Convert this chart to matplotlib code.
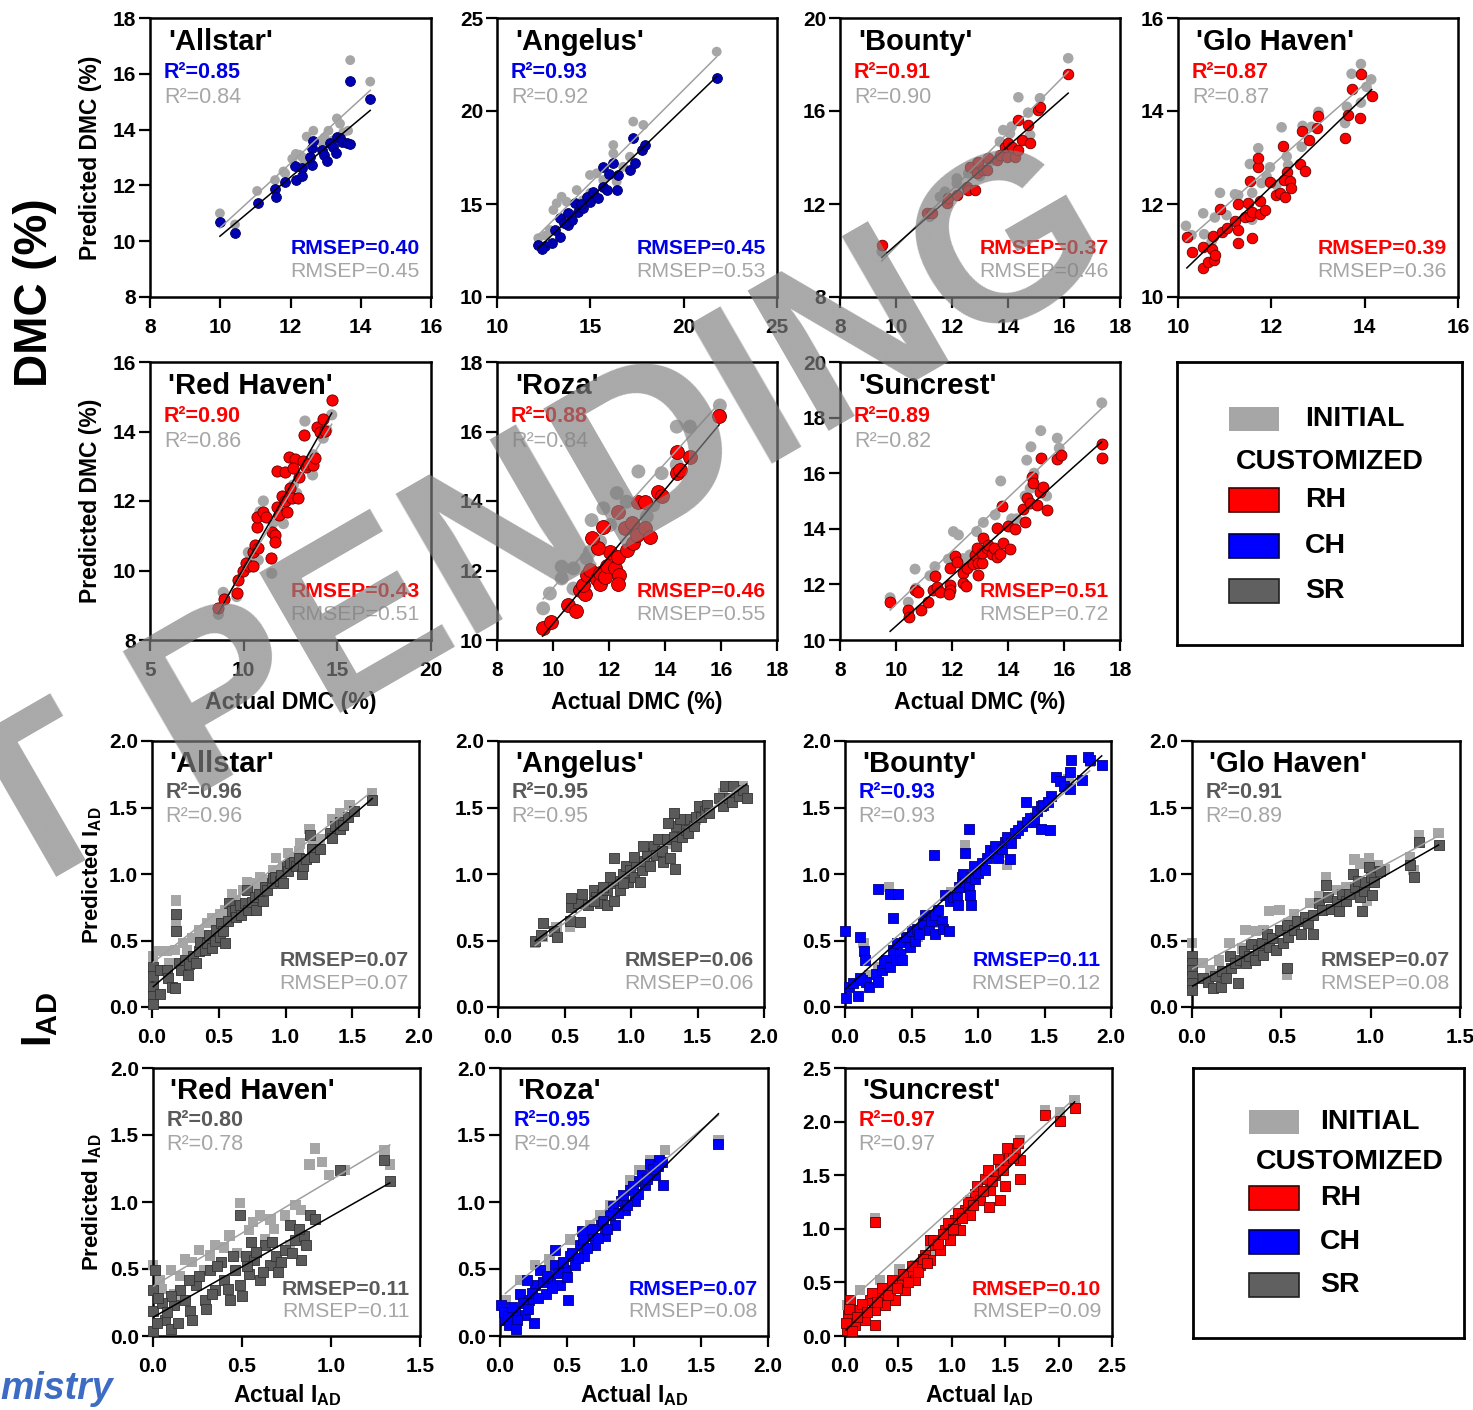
import numpy as np
import matplotlib.pyplot as plt
from matplotlib.patches import Rectangle

plt.rcParams['font.family'] = ['Liberation Sans', 'DejaVu Sans']
plt.rcParams['font.weight'] = 'bold'
plt.rcParams['mathtext.fontset'] = 'custom'
plt.rcParams['mathtext.rm'] = 'Liberation Sans:bold'
plt.rcParams['mathtext.bf'] = 'Liberation Sans:bold'
plt.rcParams['mathtext.it'] = 'Liberation Sans:bold'

# ---------------- DMC data (actual, predicted) ----------------
allstar_dmc_cust = [(9.99, 10.70), (10.42, 10.29), (11.07, 11.38), (11.56, 11.86), (11.58, 11.60), (11.85, 12.13),
                    (12.15, 12.19), (12.13, 12.70), (12.34, 12.61), (12.32, 12.35), (12.60, 12.73), (12.60, 13.33),
                    (12.65, 13.60), (12.56, 13.03), (12.89, 13.27), (12.94, 13.09), (13.03, 12.87), (13.13, 13.51),
                    (13.22, 13.39), (13.32, 13.75), (13.30, 13.17), (13.41, 13.69), (13.46, 13.57), (13.62, 13.51),
                    (13.68, 13.48), (13.70, 15.75), (14.27, 15.09)]
allstar_dmc_init = [(9.99, 11.00), (11.05, 11.80), (11.56, 12.19), (11.85, 12.43), (12.15, 13.13), (12.32, 13.03),
                    (12.65, 13.96), (12.46, 13.75), (12.97, 13.72), (13.08, 13.96), (13.32, 14.40), (13.41, 14.21),
                    (13.64, 13.96), (13.70, 16.49), (14.27, 15.72), (12.25, 13.10), (12.05, 12.95), (12.89, 13.55),
                    (13.22, 13.62), (11.80, 12.50), (10.42, 10.60), (12.40, 12.85), (13.50, 13.90)]

angelus_dmc_cust = [(12.21, 12.80), (12.57, 12.74), (12.93, 12.89), (13.37, 13.24), (13.37, 14.23), (13.82, 14.50),
                    (13.82, 13.87), (14.00, 14.14), (14.18, 15.04), (14.36, 14.59), (14.62, 14.77), (14.80, 15.39),
                    (14.98, 15.12), (15.16, 15.66), (15.43, 15.30), (15.69, 15.93), (15.88, 15.75), (16.23, 17.19),
                    (15.69, 17.00), (16.50, 16.56), (16.41, 15.75), (17.12, 16.83), (17.30, 18.53), (17.39, 17.19),
                    (17.75, 17.90), (17.93, 18.17), (21.77, 21.76), (12.40, 12.60), (13.10, 13.60), (13.60, 14.00),
                    (14.50, 15.00), (16.00, 16.60)]
angelus_dmc_init = [(12.21, 13.16), (13.20, 15.04), (13.73, 15.12), (14.98, 16.56), (15.34, 16.65), (16.23, 18.17),
                    (16.23, 17.72), (17.30, 19.43), (17.84, 19.25), (16.41, 16.20), (17.12, 17.54), (14.27, 15.75),
                    (13.02, 14.68), (13.46, 15.39), (21.77, 23.19), (12.84, 13.60), (15.69, 16.29), (16.76, 17.00),
                    (14.60, 15.20), (15.00, 15.60), (13.80, 14.40), (12.60, 13.30)]

bounty_dmc_cust = [(9.49, 10.24), (11.10, 11.60), (11.27, 11.60), (11.81, 12.03), (11.87, 12.25), (12.17, 12.39),
                   (12.52, 12.74), (12.58, 12.60), (12.82, 12.60), (12.64, 13.60), (12.94, 13.82), (12.88, 13.32),
                   (13.12, 13.46), (13.30, 13.96), (13.24, 13.46), (13.60, 13.89), (13.71, 14.11), (13.89, 14.46),
                   (13.95, 14.03), (14.01, 14.61), (14.13, 14.46), (14.25, 14.03), (14.37, 14.32), (14.37, 15.61),
                   (14.49, 14.75), (14.72, 15.40), (14.79, 14.64), (15.08, 16.04), (15.14, 16.18), (16.15, 17.58)]
bounty_dmc_init = [(9.49, 9.95), (11.21, 11.45), (11.75, 12.53), (12.17, 13.10), (12.88, 13.75), (13.36, 13.82),
                   (13.71, 14.68), (13.83, 15.18), (14.13, 15.33), (14.37, 16.59), (14.72, 15.93), (14.79, 14.97),
                   (15.14, 16.55), (16.15, 18.27), (12.58, 13.32), (13.12, 13.60), (12.17, 12.89), (11.57, 12.31),
                   (14.07, 15.03), (12.40, 12.60), (13.00, 13.20)]

glohaven_dmc_cust = [(10.19, 11.28), (10.29, 10.97), (10.54, 11.08), (10.54, 10.62), (10.65, 10.76), (10.72, 11.03),
                     (10.78, 10.80), (10.79, 10.90), (10.76, 11.32), (10.90, 11.89), (10.94, 11.40), (11.04, 11.48),
                     (11.22, 11.64), (11.29, 11.44), (11.29, 11.17), (11.29, 11.99), (11.44, 11.73), (11.51, 12.03),
                     (11.54, 12.49), (11.54, 11.74), (11.58, 11.83), (11.59, 11.26), (11.72, 12.80), (11.72, 13.00),
                     (11.76, 11.78), (11.76, 12.06), (11.86, 11.87), (11.97, 12.48), (12.11, 12.19), (12.19, 12.23),
                     (12.24, 13.25), (12.29, 12.14), (12.34, 12.69), (12.28, 12.52), (12.40, 12.50), (12.42, 12.35),
                     (12.61, 12.86), (12.65, 13.56), (12.73, 12.71), (12.81, 13.38), (12.97, 13.63), (13.01, 13.89),
                     (13.58, 13.41), (13.64, 13.91), (13.73, 14.47), (13.90, 13.86), (13.92, 14.80), (14.15, 14.32)]
glohaven_dmc_init = [(10.17, 11.53), (10.29, 11.33), (10.54, 11.80), (10.56, 11.35), (10.72, 11.19), (10.79, 11.71),
                     (10.90, 12.24), (11.04, 11.76), (11.22, 12.21), (11.29, 12.19), (11.54, 12.86), (11.59, 12.24),
                     (11.59, 11.66), (11.72, 13.20), (11.79, 12.45), (11.90, 12.59), (11.97, 12.79), (12.11, 12.41),
                     (12.22, 13.65), (12.33, 13.02), (12.36, 12.84), (12.65, 13.23), (12.67, 13.68), (12.86, 13.66),
                     (13.01, 13.98), (13.58, 13.74), (13.62, 14.09), (13.72, 14.80), (13.92, 15.01), (14.14, 14.68),
                     (13.92, 14.18), (14.04, 14.52)]

redhaven_dmc_cust = [(8.65, 8.91), (8.95, 9.18), (9.63, 9.36), (9.71, 9.73), (9.95, 9.99), (10.13, 10.21),
                     (10.30, 10.14), (10.52, 10.14), (10.52, 10.54), (10.61, 10.73), (10.78, 10.64), (10.70, 11.26),
                     (10.73, 11.55), (11.02, 11.69), (11.19, 11.55), (11.44, 10.35), (11.50, 11.12), (11.67, 11.02),
                     (11.67, 10.83), (11.76, 11.84), (11.90, 11.60), (12.03, 12.13), (12.21, 11.99), (12.30, 11.69),
                     (12.47, 12.37), (12.57, 12.08), (12.92, 12.08), (12.97, 12.68), (11.76, 12.86), (12.21, 12.84),
                     (12.44, 13.28), (12.74, 13.20), (12.62, 12.96), (13.18, 13.14), (13.33, 12.99), (13.45, 13.06),
                     (13.72, 13.04), (13.81, 13.24), (13.22, 13.89), (13.90, 14.12), (14.08, 13.99), (14.34, 14.01),
                     (14.25, 14.35), (14.70, 14.91)]
redhaven_dmc_init = [(8.65, 8.74), (8.91, 9.37), (9.63, 9.25), (10.25, 10.52), (10.34, 10.33), (10.78, 10.30),
                     (10.87, 11.69), (11.05, 12.00), (11.50, 9.92), (11.58, 11.38), (11.85, 11.50), (12.12, 11.35),
                     (12.30, 11.99), (12.65, 12.46), (12.83, 12.22), (13.27, 14.30), (13.68, 12.75), (13.58, 12.94),
                     (13.72, 13.33), (14.25, 13.81), (14.70, 14.48), (14.44, 14.04)]

roza_dmc_cust = [(9.63, 10.34), (9.92, 10.51), (10.55, 11.01), (10.82, 10.83), (10.96, 11.44), (11.14, 11.32),
                 (11.08, 11.58), (11.20, 11.87), (11.32, 12.01), (11.56, 11.76), (11.68, 11.60), (11.68, 11.92),
                 (11.86, 11.82), (11.92, 12.14), (12.04, 12.54), (12.21, 12.06), (12.33, 12.40), (12.37, 11.87),
                 (12.33, 11.60), (11.62, 12.64), (11.38, 12.94), (11.80, 13.26), (12.33, 13.69), (12.57, 13.23),
                 (12.63, 12.60), (12.81, 13.36), (12.87, 12.78), (12.99, 13.02), (13.29, 13.23), (13.46, 12.97),
                 (13.05, 13.98), (13.29, 13.96), (13.76, 14.27), (13.88, 14.15), (14.42, 14.80), (14.42, 15.40),
                 (14.54, 14.89), (14.89, 15.28), (15.93, 16.46)]
roza_dmc_init = [(9.65, 10.91), (9.89, 11.34), (10.31, 12.11), (10.31, 11.77), (10.73, 11.48), (11.32, 12.54),
                 (11.38, 13.45), (11.80, 13.79), (12.28, 14.23), (12.63, 13.98), (13.05, 14.85), (13.58, 13.88),
                 (13.88, 14.80), (14.42, 16.14), (14.89, 16.14), (15.96, 16.75), (14.42, 15.04), (11.68, 12.83),
                 (12.04, 13.31), (11.20, 12.35), (10.73, 12.06), (13.35, 13.55)]

suncrest_dmc_cust = [(9.79, 11.36), (10.44, 11.08), (10.48, 10.84), (10.68, 11.80), (10.80, 11.71), (10.88, 11.08),
                     (11.15, 11.36), (11.31, 11.80), (11.39, 12.31), (11.45, 11.92), (11.57, 11.74), (11.93, 11.98),
                     (11.93, 11.80), (11.90, 11.65), (11.93, 12.58), (12.11, 13.03), (12.17, 12.81), (12.40, 12.40),
                     (12.40, 12.04), (12.50, 11.95), (12.55, 12.58), (12.76, 12.73), (12.82, 13.06), (12.88, 13.32),
                     (12.94, 12.76), (12.94, 12.34), (13.06, 12.76), (13.06, 13.12), (13.12, 13.66), (13.26, 13.32),
                     (13.30, 13.42), (13.42, 13.08), (13.50, 13.30), (13.60, 13.00), (13.71, 13.08), (13.59, 14.02),
                     (13.83, 13.48), (14.01, 14.11), (14.07, 13.28), (14.25, 13.99), (14.61, 14.26), (14.52, 14.71),
                     (14.67, 15.10), (14.79, 14.92), (14.85, 15.88), (14.90, 15.64), (15.02, 14.86), (15.14, 15.31),
                     (15.26, 15.51), (15.38, 14.68), (13.77, 14.82), (15.17, 16.54), (15.76, 16.52), (15.89, 16.67),
                     (17.35, 17.05), (17.35, 16.56)]
suncrest_dmc_init = [(9.79, 11.52), (10.44, 11.36), (10.68, 12.55), (11.21, 12.31), (11.39, 12.64), (11.87, 12.91),
                     (12.05, 13.90), (12.23, 13.78), (12.88, 13.90), (13.12, 14.23), (13.54, 14.50), (13.74, 15.72),
                     (14.13, 14.36), (14.31, 14.36), (14.61, 15.18), (14.67, 16.47), (14.82, 16.95), (14.93, 16.00),
                     (15.17, 17.53), (15.38, 15.18), (15.76, 17.26), (15.83, 16.90), (17.35, 18.53), (12.40, 12.93),
                     (12.64, 13.06), (10.71, 11.86), (14.79, 15.45)]

# ---------------- I_AD data (actual, predicted) ----------------
allstar_iad_cust = [(0.01, 0.30), (0.01, 0.23), (0.01, 0.15), (0.01, 0.08), (0.01, 0.02), (0.06, 0.28), (0.06, 0.10),
                    (0.11, 0.28), (0.12, 0.22), (0.15, 0.15), (0.17, 0.14), (0.20, 0.33), (0.22, 0.28), (0.25, 0.35),
                    (0.27, 0.24), (0.28, 0.32), (0.31, 0.38), (0.35, 0.42), (0.33, 0.33), (0.36, 0.49), (0.40, 0.43),
                    (0.41, 0.48), (0.43, 0.54), (0.45, 0.44), (0.47, 0.50), (0.48, 0.58), (0.51, 0.53), (0.52, 0.63),
                    (0.53, 0.57), (0.55, 0.48), (0.57, 0.65), (0.58, 0.78), (0.60, 0.72), (0.62, 0.73), (0.63, 0.68),
                    (0.66, 0.77), (0.67, 0.69), (0.70, 0.78), (0.71, 0.88), (0.72, 0.73), (0.75, 0.79), (0.77, 0.83),
                    (0.78, 0.73), (0.80, 0.85), (0.83, 0.80), (0.85, 0.90), (0.86, 0.88), (0.90, 0.93), (0.91, 0.97),
                    (0.92, 0.98), (0.96, 0.95), (0.97, 0.99), (0.98, 0.93), (1.01, 1.06), (1.02, 1.02), (1.03, 1.08),
                    (1.06, 1.09), (1.08, 1.06), (1.10, 1.12), (1.12, 1.00), (1.13, 1.06), (1.15, 1.11), (1.18, 1.29),
                    (1.20, 1.19), (1.21, 1.13), (1.26, 1.19), (1.33, 1.31), (1.35, 1.27), (1.37, 1.36), (1.41, 1.34),
                    (1.41, 1.39), (1.43, 1.37), (1.47, 1.43), (1.51, 1.47), (1.65, 1.56), (0.18, 0.70), (0.18, 0.57)]
allstar_iad_init = [(0.01, 0.38), (0.05, 0.42), (0.11, 0.42), (0.17, 0.43), (0.23, 0.48), (0.30, 0.52), (0.35, 0.58),
                    (0.41, 0.63), (0.45, 0.67), (0.51, 0.70), (0.55, 0.73), (0.60, 0.85), (0.63, 0.80), (0.71, 0.94),
                    (0.76, 0.93), (0.81, 0.98), (0.85, 0.95), (0.93, 1.12), (0.98, 1.06), (1.02, 1.16), (1.10, 1.17),
                    (1.11, 1.23), (1.18, 1.34), (1.26, 1.26), (1.35, 1.41), (1.41, 1.46), (1.48, 1.52), (1.65, 1.61),
                    (0.18, 0.80), (0.18, 0.64), (0.03, 0.28), (0.13, 0.33), (0.26, 0.43), (0.37, 0.53), (0.48, 0.64),
                    (0.58, 0.69), (0.68, 0.88), (0.78, 0.90), (0.91, 1.03), (1.06, 1.13), (1.21, 1.26)]

angelus_iad_cust = [(0.28, 0.50), (0.32, 0.54), (0.34, 0.63), (0.42, 0.57), (0.44, 0.53), (0.54, 0.65), (0.55, 0.75),
                    (0.60, 0.78), (0.62, 0.64), (0.63, 0.85), (0.68, 0.77), (0.72, 0.88), (0.74, 0.83), (0.77, 0.78),
                    (0.78, 0.85), (0.82, 0.77), (0.82, 0.88), (0.85, 0.93), (0.87, 1.12), (0.87, 0.80), (0.90, 0.95),
                    (0.92, 0.88), (0.94, 1.00), (0.96, 1.06), (0.98, 0.94), (0.99, 1.03), (1.02, 0.98), (1.04, 1.08),
                    (1.07, 0.94), (1.08, 1.03), (1.10, 1.10), (1.12, 1.16), (1.14, 1.06), (1.17, 1.21), (1.19, 1.14),
                    (1.20, 1.26), (1.23, 1.17), (1.24, 1.09), (1.27, 1.26), (1.29, 1.12), (1.32, 1.28), (1.33, 1.04),
                    (1.34, 1.36), (1.34, 1.21), (1.37, 1.41), (1.38, 1.28), (1.41, 1.33), (1.43, 1.31), (1.44, 1.41),
                    (1.47, 1.36), (1.49, 1.43), (1.51, 1.51), (1.53, 1.43), (1.56, 1.47), (1.57, 1.52), (1.59, 1.46),
                    (1.66, 1.57), (1.69, 1.51), (1.71, 1.66), (1.74, 1.57), (1.77, 1.66), (1.76, 1.54), (1.81, 1.59),
                    (1.84, 1.63), (1.87, 1.57), (1.32, 1.46), (1.28, 1.38), (1.09, 1.21), (1.02, 1.13), (0.94, 0.93),
                    (0.84, 0.98), (0.72, 0.80), (0.55, 0.82), (0.79, 0.90)]
angelus_iad_init = [(0.28, 0.48), (0.54, 0.60), (0.77, 0.83), (0.99, 1.00), (1.14, 1.13), (1.32, 1.23), (1.44, 1.36),
                    (1.57, 1.46), (1.69, 1.61), (1.84, 1.66), (0.64, 0.78), (0.89, 0.93), (1.07, 1.06), (1.24, 1.21),
                    (1.49, 1.41), (0.44, 0.60), (0.34, 0.53)]

bounty_iad_cust = [(0.01, 0.07), (0.03, 0.15), (0.06, 0.18), (0.10, 0.08), (0.13, 0.20), (0.16, 0.19), (0.18, 0.15),
                   (0.11, 0.22), (0.23, 0.25), (0.25, 0.19), (0.28, 0.28), (0.29, 0.33), (0.31, 0.35), (0.34, 0.30),
                   (0.36, 0.43), (0.38, 0.35), (0.39, 0.48), (0.41, 0.40), (0.43, 0.35), (0.44, 0.49), (0.46, 0.53),
                   (0.49, 0.45), (0.50, 0.57), (0.53, 0.50), (0.54, 0.59), (0.56, 0.55), (0.59, 0.63), (0.60, 0.69),
                   (0.63, 0.58), (0.65, 0.65), (0.68, 0.55), (0.68, 0.69), (0.70, 0.73), (0.73, 0.65), (0.74, 0.59),
                   (0.75, 0.84), (0.78, 0.57), (0.79, 0.80), (0.81, 0.83), (0.84, 0.83), (0.85, 0.77), (0.86, 0.90),
                   (0.88, 0.98), (0.89, 1.00), (0.90, 0.94), (0.93, 0.90), (0.94, 0.84), (0.95, 0.77), (0.95, 0.98),
                   (0.97, 1.06), (0.98, 0.96), (1.00, 1.01), (1.03, 1.08), (1.05, 1.03), (1.07, 1.12), (1.09, 1.18),
                   (1.12, 1.16), (1.13, 1.21), (1.15, 1.12), (1.18, 1.19), (1.20, 1.24), (1.22, 1.28), (1.24, 1.11),
                   (1.25, 1.23), (1.28, 1.31), (1.30, 1.33), (1.33, 1.36), (1.37, 1.39), (1.39, 1.42), (1.42, 1.39),
                   (1.44, 1.47), (1.47, 1.51), (1.49, 1.52), (1.47, 1.34), (1.54, 1.33), (1.55, 1.59), (1.53, 1.54),
                   (1.59, 1.73), (1.62, 1.70), (1.65, 1.66), (1.69, 1.64), (1.69, 1.77), (1.70, 1.86), (1.78, 1.71),
                   (1.83, 1.88), (1.84, 1.86), (1.93, 1.82), (0.00, 0.57), (0.11, 0.53), (0.14, 0.42), (0.15, 0.35),
                   (0.25, 0.89), (0.34, 0.85), (0.40, 0.85), (0.36, 0.67), (0.67, 1.14), (0.93, 1.34), (0.90, 1.16),
                   (1.36, 1.54)]
bounty_iad_init = [(0.14, 0.48), (0.33, 0.90), (0.90, 1.22), (0.18, 0.24), (0.43, 0.40), (0.68, 0.63), (0.93, 0.93),
                   (1.18, 1.16), (1.43, 1.43), (1.68, 1.71), (1.84, 1.84), (1.22, 1.07), (0.55, 0.53), (1.05, 1.06),
                   (1.33, 1.37), (0.25, 0.30), (0.80, 0.86)]

glohaven_iad_cust = [(0.00, 0.38), (0.00, 0.33), (0.00, 0.28), (0.00, 0.23), (0.00, 0.18), (0.00, 0.13), (0.06, 0.22),
                     (0.09, 0.19), (0.12, 0.14), (0.13, 0.23), (0.16, 0.15), (0.17, 0.27), (0.19, 0.22), (0.21, 0.38),
                     (0.22, 0.29), (0.24, 0.33), (0.26, 0.18), (0.27, 0.35), (0.29, 0.42), (0.30, 0.33), (0.32, 0.38),
                     (0.33, 0.47), (0.35, 0.35), (0.37, 0.43), (0.39, 0.48), (0.40, 0.39), (0.42, 0.55), (0.43, 0.45),
                     (0.45, 0.52), (0.47, 0.43), (0.49, 0.58), (0.51, 0.48), (0.53, 0.62), (0.53, 0.29), (0.54, 0.53),
                     (0.57, 0.58), (0.59, 0.65), (0.61, 0.55), (0.63, 0.68), (0.65, 0.63), (0.68, 0.69), (0.68, 0.55),
                     (0.71, 0.78), (0.73, 0.73), (0.75, 0.92), (0.76, 0.83), (0.78, 0.74), (0.81, 0.80), (0.82, 0.72),
                     (0.84, 0.85), (0.86, 0.80), (0.88, 0.85), (0.90, 1.00), (0.91, 0.90), (0.93, 0.95), (0.94, 0.83),
                     (0.95, 0.72), (0.96, 0.87), (0.97, 0.94), (0.99, 1.05), (1.00, 0.98), (1.01, 0.84), (1.02, 0.94),
                     (1.05, 1.02), (1.22, 1.07), (1.24, 0.98), (1.27, 1.24), (1.38, 1.22)]
glohaven_iad_init = [(0.00, 0.48), (0.06, 0.33), (0.10, 0.28), (0.15, 0.35), (0.21, 0.48), (0.28, 0.44), (0.30, 0.58),
                     (0.36, 0.57), (0.43, 0.72), (0.49, 0.73), (0.57, 0.70), (0.64, 0.67), (0.66, 0.78), (0.75, 0.98),
                     (0.81, 0.88), (0.86, 0.90), (0.91, 1.11), (0.94, 1.08), (0.99, 1.12), (1.04, 1.07), (1.08, 1.04),
                     (0.98, 0.80), (1.22, 1.13), (1.24, 1.03), (1.27, 1.29), (1.38, 1.31), (0.53, 0.24), (0.12, 0.25),
                     (0.40, 0.58), (0.54, 0.63), (0.71, 0.83)]

redhaven_iad_cust = [(0.00, 0.34), (0.00, 0.19), (0.00, 0.04), (0.01, 0.49), (0.07, 0.12), (0.12, 0.23), (0.15, 0.34),
                     (0.21, 0.19), (0.24, 0.38), (0.29, 0.27), (0.32, 0.49), (0.35, 0.34), (0.40, 0.42), (0.43, 0.27),
                     (0.46, 0.49), (0.49, 0.38), (0.52, 0.60), (0.54, 0.46), (0.57, 0.57), (0.60, 0.42), (0.63, 0.68),
                     (0.66, 0.53), (0.69, 0.60), (0.74, 0.64), (0.77, 0.83), (0.80, 0.72), (0.83, 0.57), (0.85, 0.75),
                     (0.88, 0.90), (0.49, 0.90), (1.30, 1.31), (1.33, 1.16), (1.05, 1.24), (0.91, 0.87), (0.10, 0.30),
                     (0.20, 0.42), (0.38, 0.55), (0.55, 0.70), (0.70, 0.48), (0.05, 0.25), (0.02, 0.10), (0.03, 0.28),
                     (0.08, 0.18), (0.10, 0.05), (0.14, 0.10), (0.18, 0.27), (0.22, 0.12), (0.26, 0.45), (0.30, 0.20),
                     (0.33, 0.31), (0.36, 0.52), (0.42, 0.35), (0.45, 0.60), (0.50, 0.30), (0.53, 0.52), (0.58, 0.63),
                     (0.62, 0.48), (0.67, 0.70), (0.72, 0.55), (0.78, 0.62), (0.82, 0.80), (0.86, 0.68)]
redhaven_iad_init = [(0.00, 0.53), (0.04, 0.42), (0.10, 0.49), (0.18, 0.57), (0.26, 0.64), (0.35, 0.68), (0.43, 0.75),
                     (0.49, 0.99), (0.54, 0.79), (0.60, 0.90), (0.66, 0.87), (0.74, 0.90), (0.83, 0.94), (0.88, 1.28),
                     (0.91, 1.40), (0.99, 1.20), (1.08, 1.24), (1.30, 1.39), (1.33, 1.28), (0.77, 0.68), (0.12, 0.31),
                     (0.29, 0.49), (0.63, 0.72), (0.05, 0.35), (0.15, 0.45), (0.22, 0.55), (0.32, 0.60), (0.40, 0.66),
                     (0.47, 0.62), (0.56, 0.85), (0.68, 0.80), (0.80, 0.98), (0.95, 1.30)]

roza_iad_cust = [(0.01, 0.23), (0.04, 0.12), (0.07, 0.08), (0.11, 0.19), (0.15, 0.31), (0.19, 0.16), (0.22, 0.27),
                 (0.26, 0.38), (0.30, 0.49), (0.34, 0.31), (0.37, 0.42), (0.41, 0.53), (0.45, 0.38), (0.49, 0.49),
                 (0.52, 0.60), (0.56, 0.53), (0.60, 0.68), (0.63, 0.60), (0.67, 0.75), (0.71, 0.68), (0.75, 0.83),
                 (0.78, 0.75), (0.82, 0.90), (0.86, 0.83), (0.90, 1.01), (0.93, 0.94), (0.97, 1.09), (1.01, 1.01),
                 (1.04, 1.16), (1.08, 1.13), (1.12, 1.28), (1.16, 1.20), (1.19, 1.31), (1.22, 1.13), (0.51, 0.27),
                 (1.63, 1.43), (0.20, 0.42), (0.41, 0.64), (0.61, 0.78), (0.84, 0.97), (0.03, 0.18), (0.06, 0.15),
                 (0.09, 0.22), (0.13, 0.12), (0.17, 0.25), (0.21, 0.20), (0.24, 0.32), (0.28, 0.28), (0.32, 0.40),
                 (0.35, 0.45), (0.39, 0.36), (0.43, 0.47), (0.47, 0.55), (0.50, 0.44), (0.54, 0.62), (0.58, 0.58),
                 (0.62, 0.72), (0.65, 0.66), (0.69, 0.80), (0.73, 0.73), (0.77, 0.86), (0.80, 0.80), (0.88, 0.92),
                 (0.92, 1.05), (0.95, 0.98), (0.99, 1.12), (1.03, 1.06), (1.06, 1.20), (1.10, 1.17), (1.14, 1.25),
                 (1.18, 1.27), (1.21, 1.30), (0.25, 0.10), (0.12, 0.05)]
roza_iad_init = [(0.04, 0.27), (0.15, 0.42), (0.26, 0.53), (0.37, 0.57), (0.52, 0.72), (0.67, 0.83), (0.82, 0.98),
                 (0.97, 1.16), (1.12, 1.31), (1.23, 1.39), (1.63, 1.46), (0.34, 0.49), (0.75, 0.90), (1.04, 1.24)]

suncrest_iad_cust = [(0.02, 0.06), (0.03, 0.20), (0.05, 0.34), (0.09, 0.10), (0.14, 0.24), (0.19, 0.15), (0.23, 0.34),
                     (0.28, 0.24), (0.33, 0.38), (0.37, 0.29), (0.42, 0.43), (0.47, 0.34), (0.51, 0.48), (0.56, 0.43),
                     (0.61, 0.57), (0.66, 0.52), (0.70, 0.66), (0.75, 0.76), (0.80, 0.71), (0.84, 0.85), (0.89, 0.80),
                     (0.94, 0.99), (0.98, 0.90), (1.03, 1.08), (1.08, 0.99), (1.12, 1.18), (1.17, 1.13), (1.22, 1.32),
                     (1.26, 1.27), (1.31, 1.46), (1.36, 1.36), (1.40, 1.50), (1.45, 1.60), (1.50, 1.64), (1.54, 1.69),
                     (1.59, 1.74), (1.64, 1.64), (1.45, 1.27), (1.64, 1.46), (1.87, 2.06), (2.01, 2.01), (2.15, 2.13),
                     (0.28, 0.10), (0.80, 0.90), (0.28, 1.06), (0.01, 0.12), (0.04, 0.25), (0.07, 0.05), (0.11, 0.18),
                     (0.16, 0.30), (0.21, 0.22), (0.25, 0.40), (0.30, 0.32), (0.35, 0.45), (0.40, 0.38), (0.44, 0.52),
                     (0.49, 0.45), (0.54, 0.58), (0.59, 0.50), (0.63, 0.65), (0.68, 0.60), (0.73, 0.72), (0.77, 0.68),
                     (0.82, 0.90), (0.87, 0.86), (0.92, 0.95), (0.96, 1.05), (1.01, 1.00), (1.06, 1.15), (1.10, 1.10),
                     (1.15, 1.25), (1.20, 1.22), (1.24, 1.40), (1.29, 1.35), (1.34, 1.55), (1.38, 1.45), (1.43, 1.65),
                     (1.48, 1.55), (1.52, 1.75), (1.57, 1.66), (1.62, 1.80), (1.35, 1.20), (1.50, 1.40)]
suncrest_iad_init = [(0.02, 0.29), (0.14, 0.43), (0.33, 0.52), (0.51, 0.62), (0.66, 0.66), (0.80, 0.80), (0.98, 1.04),
                     (1.17, 1.27), (1.36, 1.50), (1.54, 1.74), (1.64, 1.83), (1.87, 2.11), (2.01, 2.09), (2.15, 2.20),
                     (0.28, 1.10)]

# colours
GRAY = '#a6a6a6'
RED, RED_E = '#ff0000', '#600000'
NAVY, NAVY_E = '#0000b4', '#00005a'
BLUE, BLUE_E = '#0000ff', '#000080'
DARK, DARK_E = '#5a5a5a', '#333333'
TXT_BLUE = '#0000e6'

W, H = 1473, 1410
fig = plt.figure(figsize=(W / 100, H / 100), dpi=100)


def px_axes(l, t, r, b):
    return fig.add_axes([l / W, 1 - b / H, (r - l) / W, (b - t) / H])


def fig_xy(x, y):
    return x / W, 1 - y / H


panels = [
    # name, box, xlim, ylim, xticks, yticks, cust, init, colour, edge, txtcolour, r2, rmsep, marker, size
    ("'Allstar'", (150, 18, 431, 297), (8, 16), (8, 18), range(8, 17, 2), range(8, 19, 2),
     allstar_dmc_cust, allstar_dmc_init, NAVY, NAVY_E, TXT_BLUE, ('0.85', '0.84'), ('0.40', '0.45'), 'o', 50),
    ("'Angelus'", (497, 18, 777, 297), (10, 25), (10, 25), range(10, 26, 5), range(10, 26, 5),
     angelus_dmc_cust, angelus_dmc_init, NAVY, NAVY_E, TXT_BLUE, ('0.93', '0.92'), ('0.45', '0.53'), 'o', 50),
    ("'Bounty'", (840, 18, 1120, 297), (8, 18), (8, 20), range(8, 19, 2), range(8, 21, 4),
     bounty_dmc_cust, bounty_dmc_init, RED, RED_E, RED, ('0.91', '0.90'), ('0.37', '0.46'), 'o', 58),
    ("'Glo Haven'", (1178, 18, 1458, 297), (10, 16), (10, 16), range(10, 17, 2), range(10, 17, 2),
     glohaven_dmc_cust, glohaven_dmc_init, RED, RED_E, RED, ('0.87', '0.87'), ('0.39', '0.36'), 'o', 58),
    ("'Red Haven'", (150, 362, 431, 640), (5, 20), (8, 16), range(5, 21, 5), range(8, 17, 2),
     redhaven_dmc_cust, redhaven_dmc_init, RED, RED_E, RED, ('0.90', '0.86'), ('0.43', '0.51'), 'o', 65),
    ("'Roza'", (497, 362, 777, 640), (8, 18), (10, 18), range(8, 19, 2), range(10, 19, 2),
     roza_dmc_cust, roza_dmc_init, RED, RED_E, RED, ('0.88', '0.84'), ('0.46', '0.55'), 'o', 100),
    ("'Suncrest'", (840, 362, 1120, 640), (8, 18), (10, 20), range(8, 19, 2), range(10, 21, 2),
     suncrest_dmc_cust, suncrest_dmc_init, RED, RED_E, RED, ('0.89', '0.82'), ('0.51', '0.72'), 'o', 62),
    ("'Allstar'", (152, 741, 419, 1007), (0, 2), (0, 2), np.arange(0, 2.01, 0.5), np.arange(0, 2.01, 0.5),
     allstar_iad_cust, allstar_iad_init, DARK, DARK_E, DARK, ('0.96', '0.96'), ('0.07', '0.07'), 's', 55),
    ("'Angelus'", (498, 741, 764, 1007), (0, 2), (0, 2), np.arange(0, 2.01, 0.5), np.arange(0, 2.01, 0.5),
     angelus_iad_cust, angelus_iad_init, DARK, DARK_E, DARK, ('0.95', '0.95'), ('0.06', '0.06'), 's', 55),
    ("'Bounty'", (845, 741, 1111, 1007), (0, 2), (0, 2), np.arange(0, 2.01, 0.5), np.arange(0, 2.01, 0.5),
     bounty_iad_cust, bounty_iad_init, BLUE, BLUE_E, BLUE, ('0.93', '0.93'), ('0.11', '0.12'), 's', 55),
    ("'Glo Haven'", (1192, 741, 1460, 1007), (0, 1.5), (0, 2), np.arange(0, 1.51, 0.5), np.arange(0, 2.01, 0.5),
     glohaven_iad_cust, glohaven_iad_init, DARK, DARK_E, DARK, ('0.91', '0.89'), ('0.07', '0.08'), 's', 55),
    ("'Red Haven'", (153, 1068, 420, 1336), (0, 1.5), (0, 2), np.arange(0, 1.51, 0.5), np.arange(0, 2.01, 0.5),
     redhaven_iad_cust, redhaven_iad_init, DARK, DARK_E, DARK, ('0.80', '0.78'), ('0.11', '0.11'), 's', 55),
    ("'Roza'", (500, 1068, 768, 1336), (0, 2), (0, 2), np.arange(0, 2.01, 0.5), np.arange(0, 2.01, 0.5),
     roza_iad_cust, roza_iad_init, BLUE, BLUE_E, BLUE, ('0.95', '0.94'), ('0.07', '0.08'), 's', 55),
    ("'Suncrest'", (845, 1068, 1112, 1336), (0, 2.5), (0, 2.5), np.arange(0, 2.51, 0.5), np.arange(0, 2.51, 0.5),
     suncrest_iad_cust, suncrest_iad_init, RED, RED_E, RED, ('0.97', '0.97'), ('0.10', '0.09'), 's', 55),
]

for (name, box, xlim, ylim, xt, yt, cust, init, col, ecol, tcol, r2, rmsep, mk, sz) in panels:
    ax = px_axes(*box)
    ix, iy = np.array(init).T
    cx, cy = np.array(cust).T
    ax.scatter(ix, iy, s=sz, marker=mk, color=GRAY, edgecolors='none', zorder=2, clip_on=False)
    ax.scatter(cx, cy, s=sz, marker=mk, color=col, edgecolors=ecol, linewidths=0.6, zorder=3, clip_on=False)
    for xs, ys, lc, lz in ((ix, iy, '#a0a0a0', 4), (cx, cy, 'black', 5)):
        k, b0 = np.polyfit(xs, ys, 1)
        xx = np.array([xs.min(), xs.max()])
        ax.plot(xx, k * xx + b0, color=lc, lw=1.1, zorder=lz)
    ax.set_xlim(*xlim)
    ax.set_ylim(*ylim)
    ax.set_xticks(list(xt))
    ax.set_yticks(list(yt))
    if mk == 's':
        ax.set_xticklabels([f'{v:.1f}' for v in xt])
        ax.set_yticklabels([f'{v:.1f}' for v in yt])
    for sp in ax.spines.values():
        sp.set_linewidth(1.8)
    ax.tick_params(axis='both', direction='out', length=8, width=1.6, labelsize=15)
    ax.tick_params(axis='x', pad=7)
    ax.tick_params(axis='y', pad=2)
    ax.text(0.065, 0.915, name, transform=ax.transAxes, fontsize=21, ha='left', va='center')
    ax.text(0.05, 0.805, f'R²={r2[0]}', transform=ax.transAxes, fontsize=15.5, color=tcol, ha='left', va='center')
    ax.text(0.05, 0.715, f'R²={r2[1]}', transform=ax.transAxes, fontsize=15.5, color=GRAY,
            fontweight='normal', ha='left', va='center')
    ax.text(0.96, 0.175, f'RMSEP={rmsep[0]}', transform=ax.transAxes, fontsize=15.3, color=tcol,
            ha='right', va='center')
    ax.text(0.96, 0.09, f'RMSEP={rmsep[1]}', transform=ax.transAxes, fontsize=15.3, color=GRAY,
            fontweight='normal', ha='right', va='center')

# axis labels
for y in (158, 501):
    fig.text(*fig_xy(90, y), 'Predicted DMC (%)', rotation=90, fontsize=16.5, ha='center', va='center')
for y in (875, 1202):
    fig.text(*fig_xy(92, y), r'Predicted I$_{\mathbf{AD}}$', rotation=90, fontsize=16, ha='center', va='center')
for x in (291, 637, 980):
    fig.text(*fig_xy(x, 703), 'Actual DMC (%)', fontsize=16.7, ha='center', va='center')
for x in (287, 634, 979):
    fig.text(*fig_xy(x, 1395), r'Actual I$_{\mathbf{AD}}$', fontsize=16.7, ha='center', va='center')
fig.text(*fig_xy(35, 293), 'DMC (%)', rotation=90, fontsize=33, ha='center', va='center')
fig.text(*fig_xy(40, 1020), r'I$_{\mathbf{AD}}$', rotation=90, fontsize=30, ha='center', va='center')

# legends
legend_items = [('INITIAL', GRAY, 'none'), ('RH', RED, '#400000'), ('CH', BLUE, '#000040'), ('SR', '#606060', '#202020')]
for (l, t, r, b), rows in (((1177, 362, 1462, 645), (419, 462, 500, 546, 591)),
                           ((1193, 1068, 1464, 1338), (1122, 1162, 1198, 1242, 1285))):
    lax = px_axes(l, t, r, b)
    lax.set_xlim(l, r)
    lax.set_ylim(b, t)
    lax.set_xticks([])
    lax.set_yticks([])
    for sp in lax.spines.values():
        sp.set_linewidth(2)
    px0 = l + 52 if t < 700 else l + 56
    tx = l + 128 if t < 700 else l + 127
    ys = [rows[0], rows[2], rows[3], rows[4]]
    for (lab, fc, ec), yc in zip(legend_items, ys):
        lax.add_patch(Rectangle((px0, yc - 12), 50, 24, facecolor=fc, edgecolor=ec, lw=1.2))
        lax.text(tx, yc, lab, fontsize=20.5, ha='left', va='center')
    lax.text(px0 + 7, rows[1], 'CUSTOMIZED', fontsize=20.5, ha='left', va='center')

# watermark and journal fragment
fig.text(*fig_xy(535, 530), 'T PENDING', rotation=30, fontsize=170, color='0.5', alpha=0.68,
         ha='center', va='center', zorder=50)
fig.text(*fig_xy(0, 1389), 'mistry', fontsize=27, color='#3d6cc4', style='italic', ha='left', va='center')

fig.savefig('out.png', dpi=100)
